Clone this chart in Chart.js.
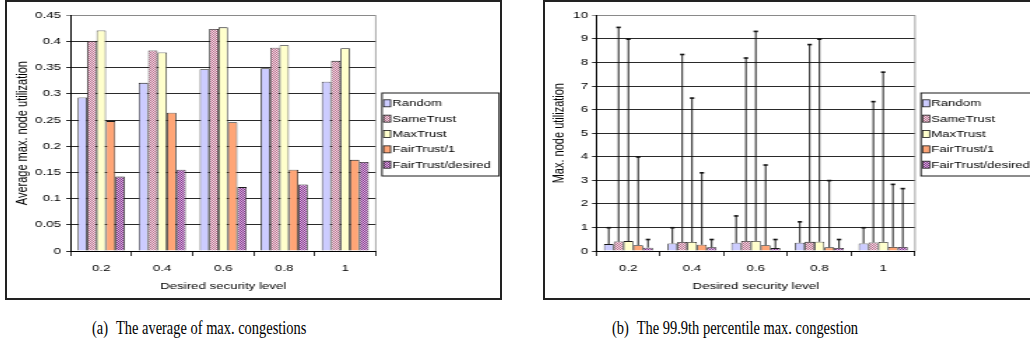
<!DOCTYPE html>
<html>
<head>
<meta charset="utf-8">
<script src="https://cdn.jsdelivr.net/npm/chart.js@4.4.0/dist/chart.umd.min.js"></script>
<style>
  html, body { margin:0; padding:0; background:#fff; }
  body { width:1030px; height:348px; overflow:hidden; position:relative; }
  .frame { position:absolute; border:2px solid #222; box-sizing:border-box; pointer-events:none; }
  .wrap { position:absolute; transform-origin:0 0; }
  .cap { position:absolute; font-family:"Liberation Serif","Times New Roman",serif; font-size:19px; line-height:22px; white-space:nowrap; color:#000; transform-origin:0 0; transform:scaleX(0.76); }
  .cap span { padding-right:6px; }
</style>
</head>
<body>
<div class="frame" style="left:5px;top:0;width:497px;height:300px;"></div>
<div class="frame" style="left:543px;top:0;width:520px;height:300px;"></div>
<div class="wrap" id="wrapA"><canvas id="chartA"></canvas></div>
<div class="wrap" id="wrapB"><canvas id="chartB"></canvas></div>
<div class="cap" style="left:92px;top:316.9px;"><span>(a)</span> The average of max. congestions</div>
<div class="cap" style="left:611.5px;top:316.9px;"><span>(b)</span> The 99.9th percentile max. congestion</div>

<script>
// ---------------- data ----------------
const categories = ['0.2', '0.4', '0.6', '0.8', '1'];
const seriesNames = ['Random', 'SameTrust', 'MaxTrust', 'FairTrust/1', 'FairTrust/desired'];

// (a) average of max. node utilization
const avgRandom   = [0.293, 0.321, 0.347, 0.349, 0.323];
const avgSame     = [0.401, 0.383, 0.424, 0.388, 0.363];
const avgMax      = [0.421, 0.379, 0.427, 0.393, 0.387];
const avgFair1    = [0.248, 0.264, 0.246, 0.155, 0.174];
const avgFairDes  = [0.142, 0.155, 0.122, 0.127, 0.170];

// (b) 99.9th percentile (top of error bars)
const p999Random  = [1.0, 1.0, 1.5, 1.25, 1.0];
const p999Same    = [9.5, 8.35, 8.2, 8.77, 6.35];
const p999Max     = [9.0, 6.5, 9.33, 9.0, 7.6];
const p999Fair1   = [4.0, 3.33, 3.66, 3.0, 2.84];
const p999FairDes = [0.5, 0.5, 0.5, 0.5, 2.66];

const yTicksA = ['0', '0.05', '0.1', '0.15', '0.2', '0.25', '0.3', '0.35', '0.4', '0.45'];
const yTicksB = ['0', '1', '2', '3', '4', '5', '6', '7', '8', '9', '10'];

const titleX = 'Desired security level';
const titleYA = 'Average max. node utilization';
const titleYB = 'Max. node utilization';

// ---------------- styling ----------------
function checker(c1, c2) {
  const c = document.createElement('canvas');
  c.width = 2; c.height = 2;
  const g = c.getContext('2d');
  g.fillStyle = c2; g.fillRect(0, 0, 2, 2);
  g.fillStyle = c1; g.fillRect(0, 0, 1, 1); g.fillRect(1, 1, 1, 1);
  return g.createPattern(c, 'repeat');
}
const fills = [
  '#CCCCFF',
  checker('#BC6E8E', '#F1DEE6'),
  '#FFFFCC',
  '#FFA576',
  checker('#86328E', '#DABCE0')
];
const FONT = 'Liberation Sans, Arial, sans-serif';

function buildChart(cfg) {
  const S = cfg.dispW / cfg.logW;
  const wrap = document.getElementById(cfg.wrap);
  wrap.style.left = cfg.pageX + 'px';
  wrap.style.top = cfg.pageY + 'px';
  wrap.style.width = cfg.logW + 'px';
  wrap.style.height = cfg.H + 'px';
  wrap.style.transform = 'scaleX(' + S + ')';

  const L = v => v / S; // display -> logical (horizontal)
  const plotL = L(cfg.plotL), plotR = L(cfg.plotR);
  const xAxisH = 42;
  const tickLenY = L(4.5);

  const datasets = cfg.series.map((vals, i) => ({
    label: seriesNames[i],
    data: vals,
    backgroundColor: fills[i],
    borderColor: '#1a1a1a',
    borderWidth: 0.8,
    borderSkipped: 'bottom',
    categoryPercentage: 0.77,
    barPercentage: 1.0
  }));

  const areaPlugin = {
    id: 'areaEdge',
    beforeDatasetsDraw(chart) {
      const a = chart.chartArea, ctx = chart.ctx;
      ctx.save();
      ctx.strokeStyle = '#8a8a8a';
      ctx.lineWidth = 0.8;
      ctx.beginPath();
      ctx.moveTo(a.right, a.top); ctx.lineTo(a.right, a.bottom);
      ctx.stroke();
      ctx.restore();
    }
  };

  const errPlugin = {
    id: 'errBars',
    afterDatasetsDraw(chart) {
      if (!cfg.err) return;
      const ctx = chart.ctx, ys = chart.scales.y;
      ctx.save();
      chart.data.datasets.forEach((ds, i) => {
        const meta = chart.getDatasetMeta(i);
        meta.data.forEach((bar, j) => {
          const yT = ys.getPixelForValue(cfg.err[i][j]);
          ctx.strokeStyle = '#111';
          ctx.lineWidth = 0.95;
          ctx.beginPath();
          ctx.moveTo(bar.x, bar.y); ctx.lineTo(bar.x, yT);
          ctx.stroke();
          ctx.lineWidth = 1.6;
          ctx.beginPath();
          ctx.moveTo(bar.x - L(2.2), yT + 0.3); ctx.lineTo(bar.x + L(2.2), yT + 0.3);
          ctx.stroke();
        });
      });
      ctx.restore();
    }
  };

  const legendPlugin = {
    id: 'boxLegend',
    afterDraw(chart) {
      const ctx = chart.ctx;
      const lx = L(cfg.legL), lw = L(cfg.legW);
      ctx.save();
      ctx.fillStyle = '#fff';
      ctx.fillRect(lx, cfg.legT, lw, cfg.legH);
      ctx.strokeStyle = '#1a1a1a';
      ctx.lineWidth = 1;
      ctx.strokeRect(lx, cfg.legT, lw, cfg.legH);
      ctx.font = '9.4px ' + FONT;
      ctx.textBaseline = 'middle';
      chart.data.datasets.forEach((ds, i) => {
        const cy = cfg.legFirst + i * 15.35;
        const sx = lx + L(1.6), sw = L(7);
        ctx.fillStyle = ds.backgroundColor;
        ctx.fillRect(sx, cy - 3.5, sw, 7);
        ctx.lineWidth = 0.8;
        ctx.strokeStyle = '#1a1a1a';
        ctx.strokeRect(sx, cy - 3.5, sw, 7);
        ctx.fillStyle = '#000';
        ctx.fillText(ds.label, lx + L(10.3), cy + 0.5);
      });
      ctx.restore();
    }
  };

  return new Chart(document.getElementById(cfg.canvas), {
    type: 'bar',
    data: { labels: categories, datasets },
    plugins: [areaPlugin, errPlugin, legendPlugin],
    options: {
      responsive: true,
      maintainAspectRatio: false,
      animation: false,
      devicePixelRatio: 1,
      layout: { padding: { left: 0, top: cfg.plotT, right: cfg.logW - plotR, bottom: cfg.H - cfg.plotB - xAxisH } },
      plugins: { legend: { display: false }, tooltip: { enabled: false } },
      scales: {
        x: {
          offset: true,
          grid: { offset: true, drawOnChartArea: false, drawTicks: true, tickLength: 5, color: '#000', lineWidth: 0.8 },
          border: { display: true, color: '#000', width: 1 },
          ticks: { color: '#000', font: { family: FONT, size: 9.5 }, padding: 7, maxRotation: 0 },
          title: { display: true, text: titleX, color: '#000', font: { family: FONT, size: 9.5 }, padding: { top: 0, bottom: 0.5 } },
          afterFit: s => { s.height = xAxisH; }
        },
        y: {
          min: 0, max: cfg.yMax,
          grid: {
            color: c => (c.tick && Math.abs(c.tick.value - cfg.yMax) < 1e-9) ? '#8a8a8a' : '#2a2a2a',
            lineWidth: 1, tickLength: tickLenY, drawTicks: true
          },
          border: { display: true, color: '#000', width: 1 },
          ticks: {
            stepSize: cfg.yStep, color: '#000', font: { family: FONT, size: 9.5 },
            padding: plotL - tickLenY - L(cfg.yLabR),
            callback: (v, i) => cfg.yLabels[i]
          },
          title: { display: true, text: cfg.yTitle, color: '#000', font: { family: FONT, size: 11 }, padding: { top: L(cfg.yTitleC) - 6.6, bottom: 0 } },
          afterFit: s => { s.width = plotL; }
        }
      }
    }
  });
}

buildChart({
  wrap: 'wrapA', canvas: 'chartA',
  pageX: 6, pageY: 1, dispW: 495, logW: 354, H: 298,
  plotL: 64.7, plotR: 369.7, plotT: 14.3, plotB: 250,
  yMax: 0.45, yStep: 0.05, yLabels: yTicksA, yTitle: titleYA,
  yLabR: 55, yTitleC: 17,
  legL: 376, legW: 117, legT: 92, legH: 83, legFirst: 102.3,
  series: [avgRandom, avgSame, avgMax, avgFair1, avgFairDes],
  err: null
});

buildChart({
  wrap: 'wrapB', canvas: 'chartB',
  pageX: 544, pageY: 1, dispW: 486, logW: 347, H: 298,
  plotL: 52.5, plotR: 371, plotT: 14.3, plotB: 250,
  yMax: 10, yStep: 1, yLabels: yTicksB, yTitle: titleYB,
  yLabR: 44, yTitleC: 16,
  legL: 377, legW: 130, legT: 92, legH: 83, legFirst: 102.3,
  series: [avgRandom, avgSame, avgMax, avgFair1, avgFairDes],
  err: [p999Random, p999Same, p999Max, p999Fair1, p999FairDes]
});
</script>
</body>
</html>
